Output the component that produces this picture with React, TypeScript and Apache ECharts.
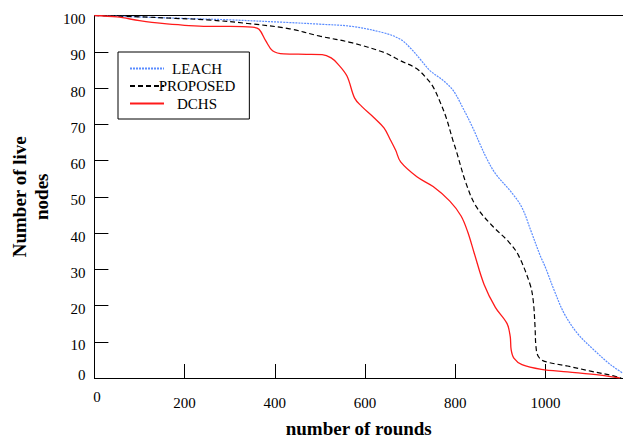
import React, { useEffect, useRef } from "react";
import * as echarts from "echarts";

const seriesNames = ["LEACH", "PROPOSED", "DCHS"];

const leach: [number, number][] = [
  [0, 100], [100, 99.6], [200, 99.2], [300, 98.8], [424, 98.1], [500, 97.6], [570, 97],
  [642, 95.2], [679, 93.4], [700, 91.1], [722, 88], [744, 84.8], [773, 82.1], [795, 79.4],
  [817, 74.5], [839, 69], [855, 64.5], [870, 60.5], [889, 56.4], [926, 51], [948, 47],
  [969, 40.2], [988, 33.9], [1000, 30.5], [1020, 24], [1042, 17.7], [1071, 12.3],
  [1107, 7.8], [1144, 3.7], [1172, 1.3],
];

const proposed: [number, number][] = [
  [0, 100], [86, 99.7], [180, 99.2], [250, 98.8], [340, 97.8], [430, 96.4], [500, 94.3],
  [570, 92.5], [642, 89.8], [679, 87.5], [715, 85.3], [737, 82.6], [751, 80.3], [766, 76.3],
  [780, 71.8], [795, 65.5], [802, 62.8], [824, 53.7], [846, 47.4], [882, 42], [919, 37.5],
  [940, 33.9], [966, 25.8], [973, 21.3], [977, 14.1], [979, 8.7], [984, 6], [998, 4.6],
  [1049, 3.3], [1100, 1.9], [1151, 0.6], [1168, 0],
];

const dchs: [number, number][] = [
  [0, 100], [50, 99.6], [100, 98.6], [150, 97.8], [200, 97.3], [250, 97], [300, 97],
  [350, 96.8], [365, 96.2], [380, 93], [395, 90.3], [420, 89.4], [470, 89.3], [505, 89.2],
  [525, 88.3], [540, 86.6], [560, 83.3], [577, 77.2], [592, 75], [620, 71.8], [642, 69],
  [655, 66], [668, 62.8], [679, 59.6], [715, 55.5], [751, 52.8], [788, 48.8], [813, 44.7],
  [828, 40.2], [842, 34.5], [864, 25.8], [889, 19.5], [915, 15], [922, 11.4], [924, 7.8],
  [930, 5.5], [948, 3.7], [991, 2.4], [1049, 1.7], [1122, 0.8], [1165, 0],
];

const xTickValues = [0, 200, 400, 600, 800, 1000];
const yTickValues = [0, 10, 20, 30, 40, 50, 60, 70, 80, 90, 100];

const FONT = "Liberation Serif";

export default function App() {
  const ref = useRef<HTMLDivElement>(null);

  useEffect(() => {
    if (!ref.current) return;
    const chart = echarts.init(ref.current, null, { renderer: "svg" });
    const lineCommon = {
      type: "line",
      showSymbol: false,
      symbol: "none",
      smooth: 0.35,
    };
    chart.setOption({
      animation: false,
      backgroundColor: "#fff",
      grid: { left: 86, right: 0, top: 15.5, bottom: 57.5 },
      legend: {
        orient: "vertical",
        left: 118,
        top: 52,
        padding: [9, 14, 8, 11],
        borderColor: "#000",
        borderWidth: 1,
        itemWidth: 34,
        itemHeight: 14,
        itemGap: 2.5,
        data: seriesNames,
        itemStyle: { color: "rgba(0,0,0,0)", borderColor: "rgba(0,0,0,0)", borderWidth: 0, opacity: 0 },
        formatter: (n: string) => "{a|" + n + "}",
        textStyle: {
          color: "#000",
          fontFamily: FONT,
          fontSize: 15,
          rich: { a: { width: 56, align: "center", fontFamily: FONT, fontSize: 15, color: "#000" } },
        },
      },
      xAxis: [
        {
          type: "value",
          min: 0,
          max: 1172,
          interval: 200,
          name: "number of rounds",
          nameLocation: "middle",
          nameGap: 41,
          nameTextStyle: { fontFamily: FONT, fontSize: 19, fontWeight: "bold", color: "#000" },
          axisLine: { show: true, lineStyle: { color: "#000", width: 1 } },
          axisTick: { show: true, inside: true, length: 14, lineStyle: { color: "#000" }, customValues: xTickValues },
          axisLabel: {
            customValues: xTickValues,
            margin: 24.5,
            verticalAlign: "middle",
            fontFamily: FONT,
            fontSize: 15,
            color: "#000",
            formatter: (v: number) => (v === 0 ? "{z|0}" : "{n|" + v + "}"),
            rich: {
              z: { padding: [0, 0, 12, 5], fontFamily: FONT, fontSize: 15, color: "#000" },
              n: { fontFamily: FONT, fontSize: 15, color: "#000" },
            },
          },
          splitLine: { show: false },
        },
        {
          type: "value",
          position: "top",
          min: 0,
          max: 1172,
          axisLine: { show: true, onZero: false, lineStyle: { color: "#000", width: 1 } },
          axisTick: { show: false },
          axisLabel: { show: false },
          splitLine: { show: false },
        },
      ],
      yAxis: {
        type: "value",
        min: 0,
        max: 100,
        interval: 10,
        name: "Number of live\nnodes",
        nameLocation: "middle",
        nameGap: 37,
        nameTextStyle: { fontFamily: FONT, fontSize: 19, fontWeight: "bold", color: "#000", lineHeight: 22 },
        axisLine: { show: true, lineStyle: { color: "#000", width: 1 } },
        axisTick: { show: true, inside: true, length: 14, lineStyle: { color: "#000" }, customValues: yTickValues },
        axisLabel: {
          margin: 9,
          fontFamily: FONT,
          fontSize: 15,
          color: "#000",
          formatter: (v: number) => (v === 0 ? "{z|0}" : "{n|" + v + "}"),
          rich: {
            z: { padding: [0, 0, 6, 0], fontFamily: FONT, fontSize: 15, color: "#000" },
            n: { padding: [7, 0, 0, 0], fontFamily: FONT, fontSize: 15, color: "#000" },
          },
        },
        splitLine: { show: false },
      },
      series: [
        {
          ...lineCommon,
          name: "LEACH",
          data: leach,
          lineStyle: { color: "#5a8cff", width: 1.2, type: [2, 1] },
          itemStyle: { color: "#5a8cff" },
        },
        {
          ...lineCommon,
          name: "PROPOSED",
          data: proposed,
          lineStyle: { color: "#000", width: 1.2, type: [5, 3] },
          itemStyle: { color: "#000" },
        },
        {
          ...lineCommon,
          name: "DCHS",
          data: dchs,
          lineStyle: { color: "#ff1a1a", width: 1.3, type: "solid" },
          itemStyle: { color: "#ff1a1a" },
        },
      ],
    });
    return () => chart.dispose();
  }, []);

  return (
    <div
      ref={ref}
      style={{ position: "fixed", left: 0, top: 0, width: 623, height: 443, background: "#fff" }}
    />
  );
}
